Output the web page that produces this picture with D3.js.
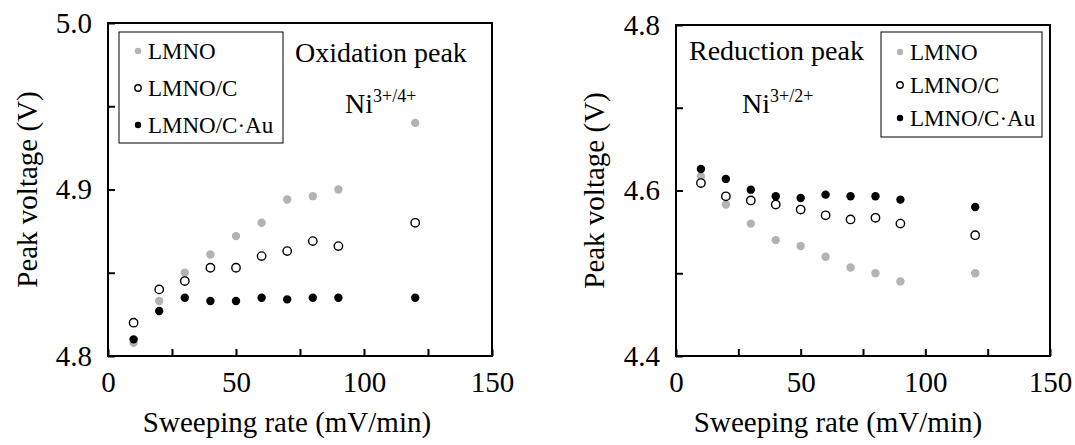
<!DOCTYPE html>
<html>
<head>
<meta charset="utf-8">
<script src="https://cdn.jsdelivr.net/npm/d3@7"></script>
<style>
  body { margin: 0; background: #fff; }
  svg { display: block; }
  text { font-family: "Liberation Serif", "Times New Roman", serif; fill: #000; }
</style>
</head>
<body>
<div id="chart"></div>
<script>
// sweeping rates (mV/min)
const rates = [10, 20, 30, 40, 50, 60, 70, 80, 90, 120];

// oxidation peak (V)
const oxLMNO = [4.808, 4.833, 4.850, 4.861, 4.872, 4.880, 4.894, 4.896, 4.900, 4.940];
const oxLMNOC = [4.820, 4.840, 4.845, 4.853, 4.853, 4.860, 4.863, 4.869, 4.866, 4.880];
const oxLMNOCAu = [4.810, 4.827, 4.835, 4.833, 4.833, 4.835, 4.834, 4.835, 4.835, 4.835];

// reduction peak (V)
const redLMNO = [4.617, 4.583, 4.560, 4.540, 4.533, 4.520, 4.507, 4.500, 4.490, 4.500];
const redLMNOC = [4.609, 4.593, 4.588, 4.583, 4.577, 4.570, 4.565, 4.567, 4.560, 4.546];
const redLMNOCAu = [4.626, 4.614, 4.601, 4.593, 4.591, 4.595, 4.593, 4.593, 4.589, 4.580];

const seriesNames = ["LMNO", "LMNO/C", "LMNO/C\u00b7Au"];
const xTicks = [0, 25, 50, 75, 100, 125, 150];
const xLabels = [0, 50, 100, 150];
const oxTicks = [4.8, 4.85, 4.9, 4.95, 5.0];
const oxLabels = [4.8, 4.9, 5.0];
const redTicks = [4.4, 4.5, 4.6, 4.7, 4.8];
const redLabels = [4.4, 4.6, 4.8];

const W = 1075, H = 445;
const GRAY = "#b3b3b3";

const svg = d3.select("#chart").append("svg")
    .attr("width", W)
    .attr("height", H);

svg.append("rect").attr("width", W).attr("height", H).attr("fill", "#fff");

// one marker style per series
function styleMarker(sel, i) {
    if (i == 0) sel.attr("fill", GRAY).attr("stroke", "none");
    else if (i == 1) sel.attr("fill", "#fff").attr("stroke", "#000").attr("stroke-width", 1.4);
    else sel.attr("fill", "#000").attr("stroke", "none");
}

function drawPanel(cfg) {
    const x = d3.scaleLinear().domain([0, 150]).range([cfg.left, cfg.right]);
    const y = d3.scaleLinear().domain(cfg.yDomain).range([cfg.bottom, cfg.top]);

    const g = svg.append("g");

    // frame
    g.append("rect")
        .attr("x", cfg.left).attr("y", cfg.top)
        .attr("width", cfg.right - cfg.left).attr("height", cfg.bottom - cfg.top)
        .attr("fill", "none").attr("stroke", "#000").attr("stroke-width", 2);

    const xAxis = d3.axisBottom(x)
        .tickValues(xTicks)
        .tickSizeInner(-7).tickSizeOuter(0)
        .tickPadding(15)
        .tickFormat(d => xLabels.includes(d) ? d : "");
    const gx = g.append("g").attr("transform", `translate(0,${cfg.bottom})`).call(xAxis);

    const yAxis = d3.axisLeft(y)
        .tickValues(cfg.yTicks)
        .tickSizeInner(-7).tickSizeOuter(0)
        .tickPadding(16)
        .tickFormat(d => cfg.yLabels.some(v => Math.abs(v - d) < 1e-9) ? d3.format(".1f")(d) : "");
    const gy = g.append("g").attr("transform", `translate(${cfg.left},0)`).call(yAxis);

    [gx, gy].forEach(a => {
        a.select(".domain").remove();
        a.selectAll("line").attr("stroke", "#000").attr("stroke-width", 2);
        a.selectAll("text").style("font-size", "29px").attr("fill", "#000");
    });

    // axis titles
    g.append("text")
        .attr("x", cfg.xTitleX).attr("y", 432)
        .attr("text-anchor", "middle")
        .style("font-size", "29px")
        .text("Sweeping rate (mV/min)");

    g.append("text")
        .attr("transform", `translate(${cfg.yTitleX},${(cfg.top + cfg.bottom) / 2}) rotate(-90)`)
        .attr("text-anchor", "middle")
        .style("font-size", "29px")
        .text("Peak voltage (V)");

    // points
    cfg.series.forEach((vals, i) => {
        g.append("g").selectAll("circle")
            .data(rates.map((r, k) => ({ r: r, v: vals[k] })))
            .enter().append("circle")
            .attr("cx", d => x(d.r))
            .attr("cy", d => y(d.v))
            .attr("r", 4.2)
            .call(styleMarker, i);
    });

    // legend
    const lg = g.append("g");
    lg.append("rect")
        .attr("x", cfg.legend.x).attr("y", cfg.legend.y)
        .attr("width", cfg.legend.w).attr("height", cfg.legend.h)
        .attr("fill", "#fff").attr("stroke", "#000").attr("stroke-width", 1);
    seriesNames.forEach((name, i) => {
        const cy = cfg.legend.y + cfg.legend.first + i * cfg.legend.step;
        lg.append("circle")
            .attr("cx", cfg.legend.x + 19).attr("cy", cy)
            .attr("r", 3.2)
            .call(styleMarker, i);
        lg.append("text")
            .attr("x", cfg.legend.x + 29).attr("y", cy + 8)
            .style("font-size", "23px")
            .text(name);
    });

    // annotations
    g.append("text")
        .attr("x", cfg.title.x).attr("y", cfg.title.y)
        .style("font-size", "28px")
        .text(cfg.title.text);

    const ni = g.append("text")
        .attr("x", cfg.ion.x).attr("y", cfg.ion.y)
        .style("font-size", "28px");
    ni.append("tspan").text("Ni");
    ni.append("tspan")
        .attr("dy", -11)
        .style("font-size", "18px")
        .text(cfg.ion.sup);
}

drawPanel({
    left: 108, right: 492, top: 23, bottom: 356,
    yDomain: [4.8, 5.0], yTicks: oxTicks, yLabels: oxLabels,
    xTitleX: 287, yTitleX: 37,
    series: [oxLMNO, oxLMNOC, oxLMNOCAu],
    legend: { x: 119, y: 32, w: 164, h: 111, first: 19, step: 37 },
    title: { x: 295, y: 62, text: "Oxidation peak" },
    ion: { x: 345, y: 113, sup: "3+/4+" }
});

drawPanel({
    left: 676, right: 1050, top: 25, bottom: 356,
    yDomain: [4.4, 4.8], yTicks: redTicks, yLabels: redLabels,
    xTitleX: 838, yTitleX: 604,
    series: [redLMNO, redLMNOC, redLMNOCAu],
    legend: { x: 881, y: 32, w: 161, h: 105, first: 20, step: 33 },
    title: { x: 689, y: 60, text: "Reduction peak" },
    ion: { x: 742, y: 113, sup: "3+/2+" }
});
</script>
</body>
</html>
